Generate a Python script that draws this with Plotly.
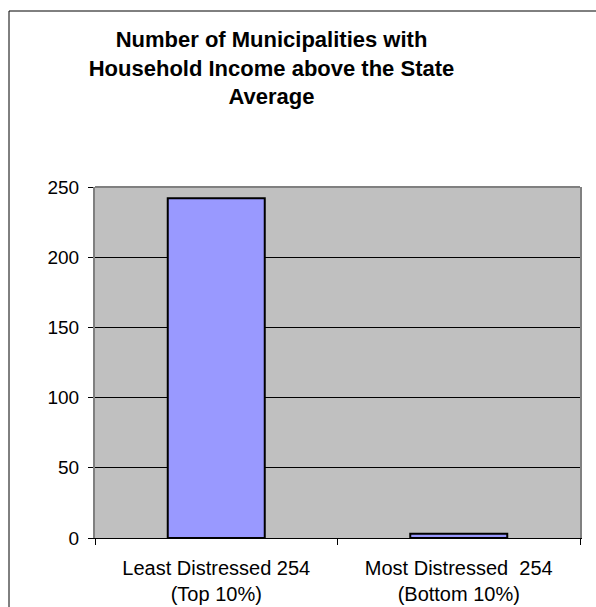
import plotly.graph_objects as go

# Chart data
categories = ["Least Distressed 254<br>(Top 10%)", "Most Distressed\u00a0\u00a0254<br>(Bottom 10%)"]
counts = [242, 3]
y_ticks = [0, 50, 100, 150, 200, 250]

W, H = 596, 607
ML, MR, MT, MB = 95, 16, 187, 69
PW, PH = W - ML - MR, H - MT - MB

FONT = "Liberation Sans, Arial, sans-serif"

fig = go.Figure(
    go.Bar(
        x=categories,
        y=counts,
        width=0.4,
        marker=dict(color="#9999FF", line=dict(color="black", width=2)),
    )
)

# Outer chart frame (pixel positions converted to paper units)
def px_x(px):
    return (px - ML) / PW

def px_y(py):
    return (H - MB - py) / PH

frame = dict(color="black", width=1)
fig.add_shape(type="line", xref="paper", yref="paper",
              x0=px_x(9), x1=px_x(W + 10), y0=px_y(11), y1=px_y(11),
              line=frame, layer="above")
fig.add_shape(type="line", xref="paper", yref="paper",
              x0=px_x(9), x1=px_x(9), y0=px_y(11), y1=px_y(H + 10),
              line=frame, layer="above")
# Plot-area top border
fig.add_shape(type="line", xref="paper", yref="paper",
              x0=0, x1=1, y0=1, y1=1,
              line=dict(color="#808080", width=2), layer="above")

fig.update_layout(
    width=W, height=H,
    margin=dict(l=ML, r=MR, t=MT, b=MB, pad=0, autoexpand=False),
    paper_bgcolor="white",
    plot_bgcolor="#C0C0C0",
    showlegend=False,
    font=dict(family=FONT, color="black", size=19),
    title=dict(
        text="<b>Number of Municipalities with<br>Household Income above the State<br>Average</b>",
        x=271.5 / W, xanchor="center", xref="container",
        y=1 - 47 / H, yanchor="top", yref="container",
        font=dict(family=FONT, size=22, color="black"),
    ),
    bargap=0.6,
)

fig.update_yaxes(
    range=[0, 250], tickvals=y_ticks, ticktext=[str(v) for v in y_ticks],
    showgrid=True, gridcolor="black", gridwidth=1,
    showline=True, linecolor="#808080", linewidth=2, mirror=True,
    ticks="outside", ticklen=5, tickcolor="black", tickwidth=1,
    zeroline=False, ticklabelstandoff=5, automargin=False,
    tickfont=dict(family=FONT, size=19, color="black"),
)
fig.update_xaxes(
    showline=True, linecolor="black", linewidth=1,
    ticks="outside", ticklen=6, tickcolor="black", tickwidth=1,
    tickson="boundaries", showgrid=False, automargin=False,
    tickfont=dict(family=FONT, size=20, color="black"),
    ticklabelstandoff=12,
)

fig.write_html("out.html")
